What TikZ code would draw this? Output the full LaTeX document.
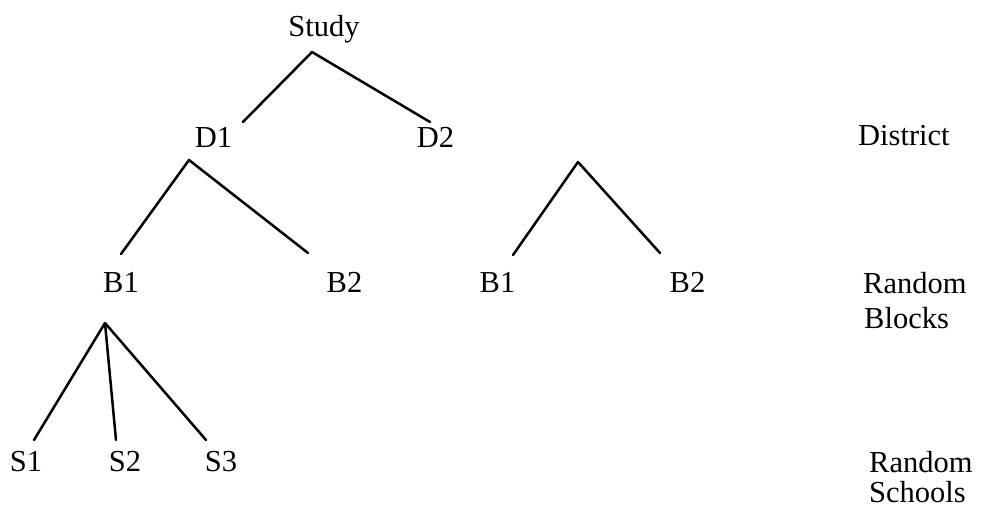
\documentclass[tikz,border=0pt]{standalone}
\usepackage{fontspec}
\setmainfont{Liberation Serif}
\begin{document}
\begin{tikzpicture}[x=1pt,y=-1pt,
  lbl/.style={inner sep=0pt,anchor=base,font=\fontsize{30.5}{34}\selectfont},
  side/.style={inner sep=0pt,anchor=base west,font=\fontsize{30.5}{34}\selectfont},
  branch/.style={line width=2.5pt,line cap=round,line join=round}]
\useasboundingbox (0,0) rectangle (982,508);
% tree labels
\node[lbl] (study) at (324,37) {Study};
\node[lbl] (d1) at (213.5,147) {D1};
\node[lbl] (d2) at (435.5,147) {D2};
\node[lbl] (b1a) at (121,292) {B1};
\node[lbl] (b2a) at (344.5,292) {B2};
\node[lbl] (b1b) at (497.5,292) {B1};
\node[lbl] (b2b) at (687.5,292) {B2};
\node[lbl] (s1) at (26,471) {S1};
\node[lbl] (s2) at (125,471) {S2};
\node[lbl] (s3) at (221,471) {S3};
% level labels
\node[side] (district) at (858,146) {District};
\node[side] (rb1) at (863,293) {Random};
\node[side] (rb2) at (864,328) {Blocks};
\node[side] (rs1) at (869,472) {Random};
\node[side] (rs2) at (869,502) {Schools};
% branch points
\coordinate (a0) at (312,52);
\coordinate (e01) at (243,122);
\coordinate (e02) at (430,122);
\coordinate (a1) at (189,160);
\coordinate (e11) at (121,254);
\coordinate (e12) at (308,253);
\coordinate (a2) at (578,162);
\coordinate (e21) at (513,255);
\coordinate (e22) at (660,253);
\coordinate (a3) at (105,323);
\coordinate (e31) at (34,440);
\coordinate (e32) at (116,440);
\coordinate (e33) at (206,440);
% branches
\draw[branch] (e01) -- (a0) -- (e02);
\draw[branch] (e11) -- (a1) -- (e12);
\draw[branch] (e21) -- (a2) -- (e22);
\draw[branch] (e31) -- (a3) -- (e32);
\draw[branch] (a3) -- (e33);
\end{tikzpicture}
\end{document}
